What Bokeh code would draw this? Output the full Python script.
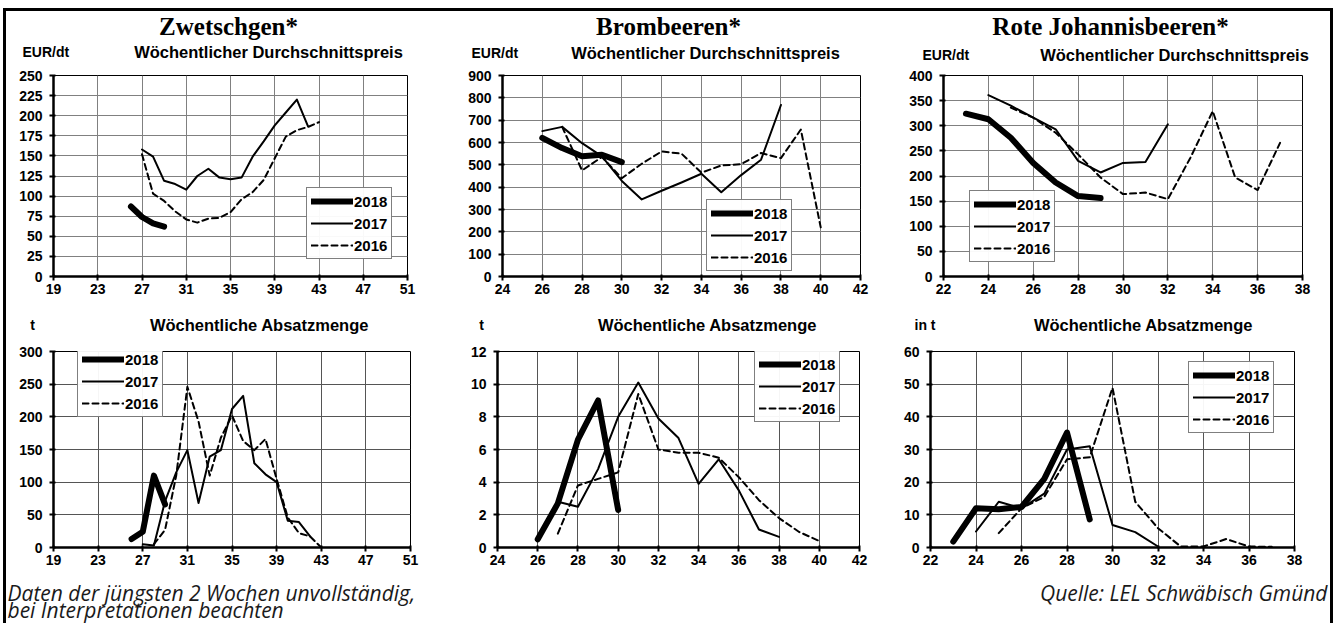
from bokeh.plotting import figure
from bokeh.layouts import row, column
from bokeh.models import Range1d, FixedTicker, Label
from bokeh.embed import file_html
from bokeh.resources import INLINE

# ---------------- data ----------------
YEARS = ["2018", "2017", "2016"]

# Zwetschgen - price (EUR/dt)
ZW_P_W18 = [26, 27, 28, 29]
ZW_P_18 = [87, 74, 66, 62]
ZW_P_W17 = [27, 28, 29, 30, 31, 32, 33, 34, 35, 36, 37, 38, 39, 40, 41, 42]
ZW_P_17 = [158, 149, 119, 115, 108, 125, 134, 123, 121, 123, 149, 168, 188, 204, 220, 187]
ZW_P_W16 = [27, 28, 29, 30, 31, 32, 33, 34, 35, 36, 37, 38, 39, 40, 41, 42, 43]
ZW_P_16 = [152, 103, 94, 81, 71, 67, 72, 73, 80, 96, 105, 120, 147, 174, 182, 186, 192]

# Brombeeren - price
BR_P_W18 = [26, 27, 28, 29, 30]
BR_P_18 = [621, 575, 538, 545, 512]
BR_P_W17 = [26, 27, 28, 29, 30, 31, 32, 33, 34, 35, 36, 37, 38]
BR_P_17 = [651, 670, 597, 538, 428, 345, 384, 421, 460, 377, 454, 523, 768]
BR_P_W16 = [27, 28, 29, 30, 31, 32, 33, 34, 35, 36, 37, 38, 39, 40]
BR_P_16 = [670, 475, 535, 440, 505, 560, 550, 465, 497, 503, 553, 530, 658, 220]

# Rote Johannisbeeren - price
RJ_P_W18 = [23, 24, 25, 26, 27, 28, 29]
RJ_P_18 = [324, 313, 276, 226, 187, 160, 156]
RJ_P_W17 = [24, 25, 26, 27, 28, 29, 30, 31, 32]
RJ_P_17 = [361, 340, 316, 293, 230, 207, 226, 228, 303]
RJ_P_W16 = [25, 26, 27, 28, 29, 30, 31, 32, 33, 34, 35, 36, 37]
RJ_P_16 = [336, 316, 286, 243, 197, 164, 167, 154, 236, 329, 197, 172, 266]

# Zwetschgen - volume (t)
ZW_V_W18 = [26, 27, 28, 29]
ZW_V_18 = [13, 24, 110, 66]
ZW_V_W17 = [27, 28, 29, 30, 31, 32, 33, 34, 35, 36, 37, 38, 39, 40, 41, 42]
ZW_V_17 = [5, 3, 71, 115, 149, 68, 139, 149, 212, 232, 129, 112, 100, 41, 39, 17]
ZW_V_W16 = [28, 29, 30, 31, 32, 33, 34, 35, 36, 37, 38, 39, 40, 41, 42, 43]
ZW_V_16 = [5, 27, 110, 246, 193, 110, 168, 202, 163, 149, 166, 105, 46, 22, 17, 0]

# Brombeeren - volume (t)
BR_V_W18 = [26, 27, 28, 29, 30]
BR_V_18 = [0.5, 2.7, 6.6, 9.0, 2.3]
BR_V_W17 = [27, 28, 29, 30, 31, 32, 33, 34, 35, 36, 37, 38]
BR_V_17 = [2.8, 2.5, 4.8, 8.0, 10.1, 7.9, 6.7, 3.9, 5.4, 3.5, 1.1, 0.65]
BR_V_W16 = [27, 28, 29, 30, 31, 32, 33, 34, 35, 36, 37, 38, 39, 40]
BR_V_16 = [0.85, 3.8, 4.2, 4.6, 9.4, 6.0, 5.8, 5.8, 5.5, 4.3, 2.9, 1.8, 0.95, 0.4]

# Rote Johannisbeeren - volume (t)
RJ_V_W18 = [23, 24, 25, 26, 27, 28, 29]
RJ_V_18 = [1.8, 12, 11.7, 12.4, 21, 35.2, 8.6]
RJ_V_W17 = [24, 25, 26, 27, 28, 29, 30, 31, 32]
RJ_V_17 = [4.9, 14, 12, 16.5, 30, 31, 6.9, 4.7, 0.3]
RJ_V_W16 = [25, 26, 27, 28, 29, 30, 31, 32, 33, 34, 35, 36, 37]
RJ_V_16 = [4.4, 12, 15.5, 27, 27.6, 48.9, 14, 5.9, 0.3, 0.3, 2.6, 0.3, 0.2]

# axis ticks
ZW_XTICKS = [19, 23, 27, 31, 35, 39, 43, 47, 51]
BR_XTICKS = [24, 26, 28, 30, 32, 34, 36, 38, 40, 42]
RJ_XTICKS = [22, 24, 26, 28, 30, 32, 34, 36, 38]
ZW_P_YTICKS = [0, 25, 50, 75, 100, 125, 150, 175, 200, 225, 250]
BR_P_YTICKS = [0, 100, 200, 300, 400, 500, 600, 700, 800, 900]
RJ_P_YTICKS = [0, 50, 100, 150, 200, 250, 300, 350, 400]
ZW_V_YTICKS = [0, 50, 100, 150, 200, 250, 300]
BR_V_YTICKS = [0, 2, 4, 6, 8, 10, 12]
RJ_V_YTICKS = [0, 10, 20, 30, 40, 50, 60]

TITLES = ["Zwetschgen*", "Brombeeren*", "Rote Johannisbeeren*"]
SUB_PRICE = "Wöchentlicher Durchschnittspreis"
SUB_VOL = "Wöchentliche Absatzmenge"
FOOT_LEFT = ["Daten der jüngsten 2 Wochen unvollständig,", " bei Interpretationen beachten"]
FOOT_RIGHT = "Quelle: LEL Schwäbisch Gmünd"

TITLE_FONT = "Liberation Serif"
SANS = "Liberation Sans"
FOOT_FONT = "Open Sans"


def blank(width, height):
    f = figure(width=width, height=height, x_range=Range1d(0, 1), y_range=Range1d(0, 1),
               output_backend="svg", toolbar_location=None,
               x_axis_type=None, y_axis_type=None,
               min_border_left=0, min_border_right=0, min_border_top=0, min_border_bottom=0)
    f.grid.visible = False
    f.outline_line_color = None
    return f


def add_text(f, txt, x, y, size, align, font, style, color="black"):
    f.add_layout(Label(x=x, y=y, x_units="screen", y_units="screen", text=txt,
                       text_align=align, text_baseline="middle",
                       text_font=font, text_font_style=style,
                       text_font_size=size, text_color=color))


def panel(width, height, borders, xticks, yticks, series, grid_color, legend_loc):
    left, right, top, bottom = borders
    p = figure(width=width, height=height,
               x_range=Range1d(xticks[0], xticks[-1]),
               y_range=Range1d(yticks[0], yticks[-1]),
               output_backend="svg", toolbar_location=None,
               min_border_left=left, min_border_right=right,
               min_border_top=top, min_border_bottom=bottom)
    p.outline_line_color = "black"
    p.outline_line_width = 1
    p.xaxis.ticker = FixedTicker(ticks=xticks)
    p.yaxis.ticker = FixedTicker(ticks=yticks)
    for ax in (p.xaxis[0], p.yaxis[0]):
        ax.axis_line_width = 2.5
        ax.axis_line_color = "black"
        ax.major_tick_line_width = 2
        ax.major_tick_line_color = "black"
        ax.major_tick_in = 2
        ax.major_tick_out = 4
        ax.minor_tick_line_color = None
        ax.major_label_text_font = SANS
        ax.major_label_text_font_style = "bold"
        ax.major_label_text_font_size = "14px"
        ax.major_label_text_color = "black"
    p.xaxis.major_label_standoff = 3
    p.yaxis.major_label_standoff = 7
    p.xgrid.grid_line_color = grid_color
    p.ygrid.grid_line_color = grid_color

    styles = [dict(line_width=6), dict(line_width=2), dict(line_width=2, line_dash="6 4")]
    for (xs, ys), yr, st in zip(series, YEARS, styles):
        p.line(xs, ys, line_color="black", line_join="round", line_cap="round",
               legend_label=yr, **st)
    lg = p.legend[0]
    lg.location = legend_loc
    lg.margin = 0
    lg.padding = 4
    lg.spacing = 4
    lg.glyph_width = 42
    lg.glyph_height = 18
    lg.label_height = 18
    lg.label_standoff = 1
    lg.label_text_font = SANS
    lg.label_text_font_style = "bold"
    lg.label_text_font_size = "15px"
    lg.label_text_color = "black"
    lg.border_line_color = "black"
    lg.border_line_width = 1
    return p


GRID_TOP = "#808080"
GRID_BOT = "#555555"

# headers of the top row
h1 = blank(444, 52)
add_text(h1, TITLES[0], 222, 37, "25px", "center", TITLE_FONT, "bold")
add_text(h1, SUB_PRICE, 262, 12, "16.5px", "center", SANS, "bold")
add_text(h1, "EUR/dt", 16, 12, "14px", "left", SANS, "bold")
h2 = blank(440, 52)
add_text(h2, TITLES[1], 218, 37, "25px", "center", TITLE_FONT, "bold")
add_text(h2, SUB_PRICE, 255, 11, "16.5px", "center", SANS, "bold")
add_text(h2, "EUR/dt", 21, 11, "14px", "left", SANS, "bold")
h3 = blank(440, 52)
add_text(h3, TITLES[2], 220, 37, "25px", "center", TITLE_FONT, "bold")
add_text(h3, SUB_PRICE, 284, 9, "16.5px", "center", SANS, "bold")
add_text(h3, "EUR/dt", 32, 9, "14px", "left", SANS, "bold")

p1 = panel(444, 240, (47, 43, 8, 26), ZW_XTICKS, ZW_P_YTICKS,
           [(ZW_P_W18, ZW_P_18), (ZW_P_W17, ZW_P_17), (ZW_P_W16, ZW_P_16)],
           GRID_TOP, (253, 17))
p2 = panel(440, 240, (52, 30, 9, 27), BR_XTICKS, BR_P_YTICKS,
           [(BR_P_W18, BR_P_18), (BR_P_W17, BR_P_17), (BR_P_W16, BR_P_16)],
           GRID_TOP, (204, 5))
p3 = panel(440, 240, (53, 28, 12, 27), RJ_XTICKS, RJ_P_YTICKS,
           [(RJ_P_W18, RJ_P_18), (RJ_P_W17, RJ_P_17), (RJ_P_W16, RJ_P_16)],
           GRID_TOP, (26, 14))

# headers of the bottom row
h4 = blank(444, 31)
add_text(h4, SUB_VOL, 253, 10, "16.5px", "center", SANS, "bold")
add_text(h4, "t", 26, 10, "14px", "center", SANS, "bold")
h5 = blank(440, 31)
add_text(h5, SUB_VOL, 257, 10, "16.5px", "center", SANS, "bold")
add_text(h5, "t", 31, 10, "14px", "center", SANS, "bold")
h6 = blank(440, 31)
add_text(h6, SUB_VOL, 253, 10, "16.5px", "center", SANS, "bold")
add_text(h6, "in t", 24, 10, "14px", "left", SANS, "bold")

p4 = panel(444, 240, (47, 40, 8, 27), ZW_XTICKS, ZW_V_YTICKS,
           [(ZW_V_W18, ZW_V_18), (ZW_V_W17, ZW_V_17), (ZW_V_W16, ZW_V_16)],
           GRID_BOT, (24, 130))
p5 = panel(440, 240, (47, 31, 12, 26), BR_XTICKS, BR_V_YTICKS,
           [(BR_V_W18, BR_V_18), (BR_V_W17, BR_V_17), (BR_V_W16, BR_V_16)],
           GRID_BOT, (257, 125))
p6 = panel(440, 240, (40, 36, 17, 26), RJ_XTICKS, RJ_V_YTICKS,
           [(RJ_V_W18, RJ_V_18), (RJ_V_W17, RJ_V_17), (RJ_V_W16, RJ_V_16)],
           GRID_BOT, (258, 114))

foot = blank(1324, 49)
add_text(foot, FOOT_LEFT[0], 1, 31, "21px", "left", FOOT_FONT, "italic", "#1a1a1a")
add_text(foot, FOOT_LEFT[1], 1, 14, "21px", "left", FOOT_FONT, "italic", "#1a1a1a")
add_text(foot, FOOT_RIGHT, 1321, 31, "21px", "right", FOOT_FONT, "italic", "#1a1a1a")

layout = column(row(h1, h2, h3, spacing=0), row(p1, p2, p3, spacing=0),
                row(h4, h5, h6, spacing=0), row(p4, p5, p6, spacing=0), foot,
                spacing=0,
                styles={"border-top": "3px solid black",
                        "border-left": "3px solid black",
                        "border-right": "3px solid black",
                        "margin-top": "8px",
                        "margin-left": "3px"})

open("out.html", "w").write(file_html(layout, INLINE))
